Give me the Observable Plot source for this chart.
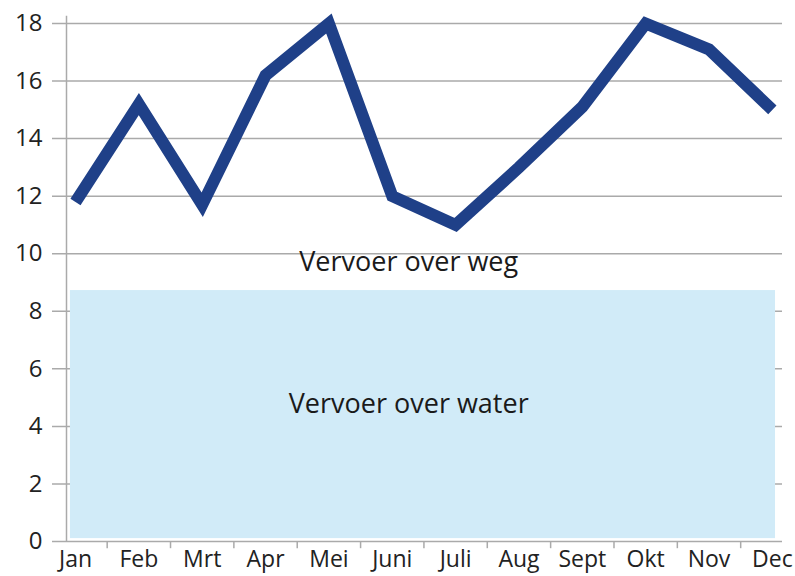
<!DOCTYPE html>
<html>
<head>
<meta charset="utf-8">
<script src="https://cdn.jsdelivr.net/npm/d3@7"></script>
<script src="https://cdn.jsdelivr.net/npm/@observablehq/plot@0.6"></script>
<style>
  html, body { margin: 0; padding: 0; background: #fff; }
</style>
</head>
<body>
<div id="chart"></div>
<script>
const months = ["Jan","Feb","Mrt","Apr","Mei","Juni","Juli","Aug","Sept","Okt","Nov","Dec"];
const roadValues = [11.8, 15.2, 11.7, 16.2, 18.0, 12.0, 11.0, 13.0, 15.1, 18.0, 17.1, 15.0];
const yTicks = [0, 2, 4, 6, 8, 10, 12, 14, 16, 18];
const waterBand = [{x1: -0.08, x2: 11.05, y1: 0.1, y2: 8.72}];
const labels = [
  {x: 5.26, y: 9.7, text: "Vervoer over weg"},
  {x: 5.26, y: 4.75, text: "Vervoer over water"}
];

const data = months.map((m, i) => ({i, month: m, value: roadValues[i]}));
const boundaries = months.slice(1).map((m, i) => i + 0.5);

const chart = Plot.plot({
  width: 795,
  height: 576,
  marginLeft: 52,
  marginRight: 13,
  marginTop: 23,
  marginBottom: 35,
  style: {fontFamily: "'Open Sans', 'Noto Sans', sans-serif", fontSize: "20px", color: "#222", background: "#fff"},
  x: {domain: [-0.363, 11.16], axis: null},
  y: {domain: [0, 18], axis: null},
  marks: [
    Plot.ruleY(yTicks, {stroke: "#aaaaaa", strokeWidth: 1.5}),
    Plot.ruleX([-0.142], {y1: 0, y2: 18.25, stroke: "#aaaaaa", strokeWidth: 1.5}),
    Plot.ruleX(boundaries, {x: d => d, y1: 0, y2: -0.25, stroke: "#aaaaaa", strokeWidth: 1.5}),
    Plot.rect(waterBand, {x1: "x1", x2: "x2", y1: "y1", y2: "y2", fill: "#d1ebf8"}),
    Plot.line(data, {x: "i", y: "value", stroke: "#1f4088", strokeWidth: 12, strokeLinejoin: "miter", strokeLinecap: "butt", strokeMiterlimit: 10}),
    Plot.axisY(yTicks, {tickSize: 0, tickPadding: 10, fontSize: 24, fill: "#222"}),
    Plot.axisX(months.map((m, i) => i), {tickSize: 0, tickPadding: 9, fontSize: 23, fill: "#222", tickFormat: i => months[i]}),
    Plot.text(labels, {x: "x", y: "y", text: "text", fontSize: 27, fill: "#1a1a1a"})
  ]
});
document.getElementById("chart").appendChild(chart);
</script>
</body>
</html>
